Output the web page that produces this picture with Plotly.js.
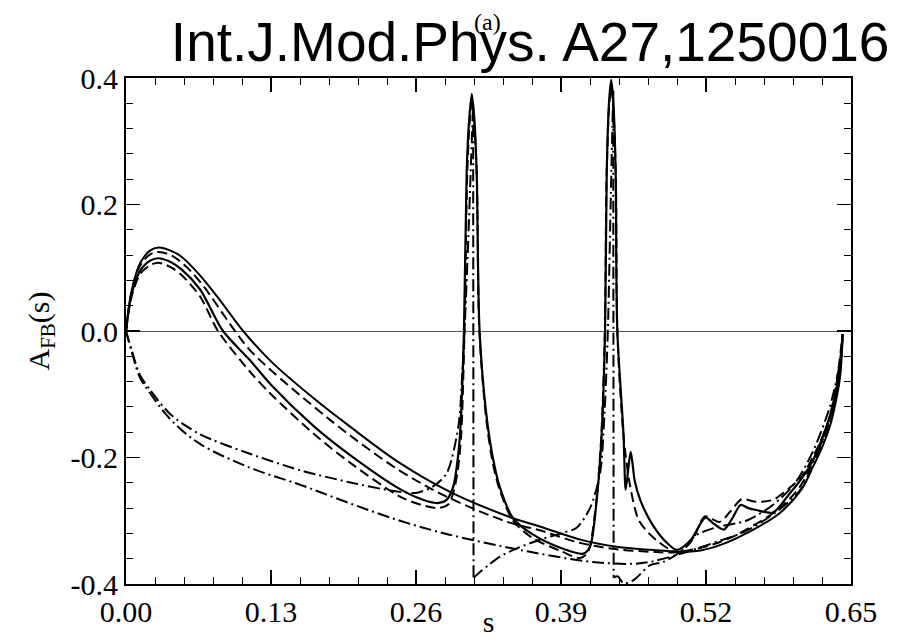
<!DOCTYPE html>
<html>
<head>
<meta charset="utf-8">
<script src="https://cdn.plot.ly/plotly-3.0.1.min.js"></script>
<style>html,body{margin:0;padding:0;background:#fff;}#chart{width:907px;height:638px;}</style>
</head>
<body>
<div id="chart"></div>
<script>
// smooth solid curve (no resonances)
const sSolidA = [0, 0.002, 0.0036, 0.0066, 0.0126, 0.0215, 0.029, 0.04, 0.05, 0.0663, 0.085, 0.105, 0.13, 0.168, 0.2, 0.2457, 0.29, 0.344, 0.371, 0.41, 0.44, 0.47, 0.497, 0.515, 0.535, 0.556, 0.586, 0.605, 0.616, 0.625, 0.631, 0.636, 0.64, 0.6425];
const aSolidA = [0, 0.03, 0.05, 0.075, 0.107, 0.127, 0.132, 0.127, 0.117, 0.088, 0.047, 0, -0.048, -0.106, -0.150, -0.209, -0.254, -0.294, -0.309, -0.331, -0.341, -0.346, -0.349, -0.347, -0.337, -0.32, -0.288, -0.252, -0.2145, -0.18, -0.151, -0.115, -0.075, -0.005];

// smooth dashed curve (no resonances)
const sDashA = [0, 0.002, 0.0036, 0.0066, 0.0126, 0.0215, 0.029, 0.04, 0.05, 0.0663, 0.0977, 0.111, 0.13, 0.168, 0.2, 0.2457, 0.29, 0.344, 0.371, 0.407, 0.44, 0.47, 0.49, 0.51, 0.535, 0.556, 0.586, 0.605, 0.616, 0.625, 0.631, 0.636, 0.64, 0.6425];
const aDashA = [0, 0.03, 0.05, 0.074, 0.103, 0.121, 0.125, 0.12, 0.108, 0.078, 0, -0.030, -0.062, -0.119, -0.164, -0.221, -0.264, -0.303, -0.315, -0.335, -0.345, -0.349, -0.35, -0.345, -0.332, -0.314, -0.28, -0.244, -0.205, -0.17, -0.14, -0.105, -0.065, -0.005];

// solid curve with resonances
const sSolidB = [0, 0.002, 0.0036, 0.0066, 0.0126, 0.0215, 0.029, 0.04, 0.05, 0.0663, 0.087, 0.111, 0.13, 0.168, 0.2, 0.2457, 0.265, 0.279, 0.2874, 0.2934, 0.2965, 0.2995, 0.303, 0.3054, 0.3077, 0.31, 0.3123, 0.3144, 0.317, 0.3233, 0.3293, 0.335, 0.347, 0.365, 0.39, 0.41, 0.416, 0.422, 0.4265, 0.4295, 0.431, 0.433, 0.435, 0.437, 0.439, 0.4405, 0.446, 0.448, 0.4505, 0.4525, 0.4545, 0.456, 0.461, 0.473, 0.485, 0.494, 0.5065, 0.5195, 0.527, 0.536, 0.544, 0.551, 0.558, 0.565, 0.58, 0.595, 0.605, 0.616, 0.631, 0.639, 0.6425];
const aSolidB = [0, 0.028, 0.046, 0.068, 0.095, 0.111, 0.115, 0.109, 0.097, 0.066, 0, -0.046, -0.085, -0.150, -0.195, -0.250, -0.266, -0.272, -0.267, -0.246, -0.215, -0.162, 0, 0.25, 0.335, 0.375, 0.335, 0.25, 0, -0.1355, -0.204, -0.246, -0.296, -0.322, -0.343, -0.352, -0.341, -0.267, -0.162, 0, 0.25, 0.36, 0.397, 0.36, 0.25, 0, -0.162, -0.251, -0.215, -0.191, -0.215, -0.236, -0.267, -0.309, -0.335, -0.346, -0.33, -0.295, -0.305, -0.314, -0.295, -0.275, -0.28, -0.283, -0.287, -0.257, -0.235, -0.204, -0.135, -0.07, -0.005];

// dashed curve with resonances
const sDashB = [0, 0.002, 0.0036, 0.0066, 0.0126, 0.0215, 0.029, 0.04, 0.05, 0.0663, 0.0825, 0.111, 0.13, 0.168, 0.2, 0.2457, 0.265, 0.28, 0.289, 0.294, 0.2975, 0.3005, 0.3035, 0.3058, 0.3079, 0.3102, 0.3124, 0.3146, 0.3168, 0.323, 0.329, 0.335, 0.347, 0.365, 0.39, 0.407, 0.414, 0.421, 0.426, 0.4293, 0.4308, 0.433, 0.435, 0.437, 0.4392, 0.4405, 0.446, 0.452, 0.46, 0.475, 0.495, 0.508, 0.519, 0.532, 0.542, 0.552, 0.565, 0.58, 0.595, 0.605, 0.616, 0.625, 0.631, 0.637, 0.6425];
const aDashB = [0, 0.027, 0.044, 0.064, 0.09, 0.104, 0.108, 0.101, 0.088, 0.055, 0, -0.064, -0.1, -0.162, -0.207, -0.262, -0.275, -0.28, -0.274, -0.252, -0.22, -0.165, 0, 0.24, 0.325, 0.365, 0.325, 0.24, 0, -0.14, -0.21, -0.251, -0.30, -0.328, -0.348, -0.359, -0.35, -0.28, -0.17, 0, 0.24, 0.35, 0.385, 0.35, 0.24, 0, -0.165, -0.245, -0.30, -0.33, -0.35, -0.33, -0.293, -0.302, -0.285, -0.266, -0.27, -0.267, -0.248, -0.232, -0.199, -0.165, -0.135, -0.083, -0.005];

// dash-dot curve with resonances (sign flips)
const sDotB = [0, 0.005, 0.0126, 0.0215, 0.04, 0.066, 0.111, 0.156, 0.2, 0.24, 0.26, 0.275, 0.2875, 0.298, 0.301, 0.304, 0.307, 0.309, 0.3112, 0.3116, 0.313, 0.318, 0.325, 0.335, 0.35, 0.371, 0.39, 0.404, 0.416, 0.425, 0.429, 0.432, 0.4345, 0.4368, 0.4372, 0.441, 0.446, 0.455, 0.47, 0.482, 0.497, 0.5115, 0.53, 0.556, 0.58, 0.6, 0.616, 0.631, 0.64, 0.6425];
const aDotB = [0, -0.03, -0.07, -0.093, -0.132, -0.163, -0.194, -0.22, -0.239, -0.253, -0.256, -0.246, -0.225, -0.151, -0.083, 0.02, 0.15, 0.25, 0.36, -0.39, -0.388, -0.38, -0.37, -0.357, -0.344, -0.330, -0.32, -0.311, -0.28, -0.225, -0.13, 0.0, 0.2, 0.38, -0.39, -0.388, -0.399, -0.394, -0.37, -0.365, -0.349, -0.3225, -0.31, -0.3, -0.275, -0.24, -0.19, -0.12, -0.05, -0.005];

// smooth dash-dot curve
const sDotA = [0, 0.005, 0.0126, 0.0215, 0.04, 0.066, 0.111, 0.156, 0.2, 0.2457, 0.29, 0.35, 0.371, 0.404, 0.431, 0.455, 0.47, 0.494, 0.51, 0.53, 0.556, 0.586, 0.605, 0.616, 0.631, 0.64, 0.6425];
const aDotA = [0, -0.032, -0.074, -0.098, -0.14, -0.178, -0.216, -0.243, -0.272, -0.300, -0.322, -0.345, -0.352, -0.362, -0.367, -0.368, -0.365, -0.354, -0.345, -0.333, -0.316, -0.282, -0.25, -0.21, -0.145, -0.07, -0.005];

const xTickVals = [0, 0.13, 0.26, 0.39, 0.52, 0.65];
const xTickText = ['0.00', '0.13', '0.26', '0.39', '0.52', '0.65'];
const yTickVals = [-0.4, -0.2, 0, 0.2, 0.4];
const yTickText = ['-0.4', '-0.2', '0.0', '0.2', '0.4'];

const DASH = '10px,5px';
const DASHDOT = '12px,4px,2px,4px';

const mk = (x, y, dash, w, shape, sm) => ({x: x, y: y, type: 'scatter', mode: 'lines', hoverinfo: 'skip', showlegend: false,
  line: {color: '#000', width: w, dash: dash, shape: shape || 'linear', smoothing: sm || 0}});

// split the sign-flipping dash-dot curve at its jumps: smooth segments plus straight vertical connectors
function splitJumps(xs, ys) {
  const segs = [], links = [];
  let start = 0;
  for (let i = 1; i < xs.length; i++) {
    if (Math.abs(ys[i] - ys[i - 1]) > 0.5) {
      segs.push([xs.slice(start, i), ys.slice(start, i)]);
      links.push([xs.slice(i - 1, i + 1), ys.slice(i - 1, i + 1)]);
      start = i;
    }
  }
  segs.push([xs.slice(start), ys.slice(start)]);
  return {segs, links};
}

const dotB = splitJumps(sDotB, aDotB);

const traces = [
  mk(sDotA, aDotA, DASHDOT, 2, 'spline', 1),
  ...dotB.segs.map(s => mk(s[0], s[1], DASHDOT, 2, 'spline', 0.8)),
  ...dotB.links.map(s => mk(s[0], s[1], DASHDOT, 2)),
  mk(sDashA, aDashA, DASH, 2, 'spline', 1),
  mk(sDashB, aDashB, DASH, 2, 'spline', 0.8),
  mk(sSolidA, aSolidA, 'solid', 2, 'spline', 1),
  mk(sSolidB, aSolidB, 'solid', 2.2, 'spline', 0.8)
];

const serif = 'Liberation Serif, Times New Roman, serif';
const layout = {
  width: 907, height: 638,
  margin: {l: 126, r: 56, t: 78, b: 54},
  paper_bgcolor: '#fff', plot_bgcolor: '#fff',
  showlegend: false,
  title: {text: 'Int.J.Mod.Phys. A27,1250016', font: {family: 'Liberation Sans, Arial, sans-serif', size: 55, color: '#000'},
    x: 0.5845, xanchor: 'center', xref: 'container', y: 0.935, yanchor: 'middle', yref: 'container'},
  xaxis: {
    range: [0, 0.65], showgrid: false, zeroline: false,
    showline: true, linecolor: '#000', linewidth: 2, mirror: 'allticks',
    ticks: 'inside', ticklen: 14, tickwidth: 1.5, tickcolor: '#000',
    tickvals: xTickVals, ticktext: xTickText,
    tickfont: {family: serif, size: 30, color: '#000'},
    minor: {dtick: 0.026, tick0: 0, ticks: 'inside', ticklen: 7, tickwidth: 1, tickcolor: '#000', showgrid: false},
    title: {text: 's', font: {family: serif, size: 30, color: '#000'}, standoff: 4}
  },
  yaxis: {
    range: [-0.4, 0.4], showgrid: false,
    zeroline: true, zerolinecolor: '#555', zerolinewidth: 1,
    showline: true, linecolor: '#000', linewidth: 2, mirror: 'allticks',
    ticks: 'inside', ticklen: 14, tickwidth: 1.5, tickcolor: '#000',
    tickvals: yTickVals, ticktext: yTickText,
    tickfont: {family: serif, size: 30, color: '#000'},
    minor: {dtick: 0.04, tick0: 0, ticks: 'inside', ticklen: 7, tickwidth: 1, tickcolor: '#000', showgrid: false},
    title: {text: 'A<sub>FB</sub>(s)', font: {family: serif, size: 30, color: '#000'}, standoff: 12}
  },
  annotations: [
    {text: '(a)', xref: 'paper', yref: 'paper', x: 0.4993, y: 1.111, xanchor: 'center', yanchor: 'middle',
     showarrow: false, font: {family: serif, size: 24, color: '#000'}}
  ]
};

Plotly.newPlot('chart', traces, layout, {displayModeBar: false, staticPlot: true});
</script>
</body>
</html>
